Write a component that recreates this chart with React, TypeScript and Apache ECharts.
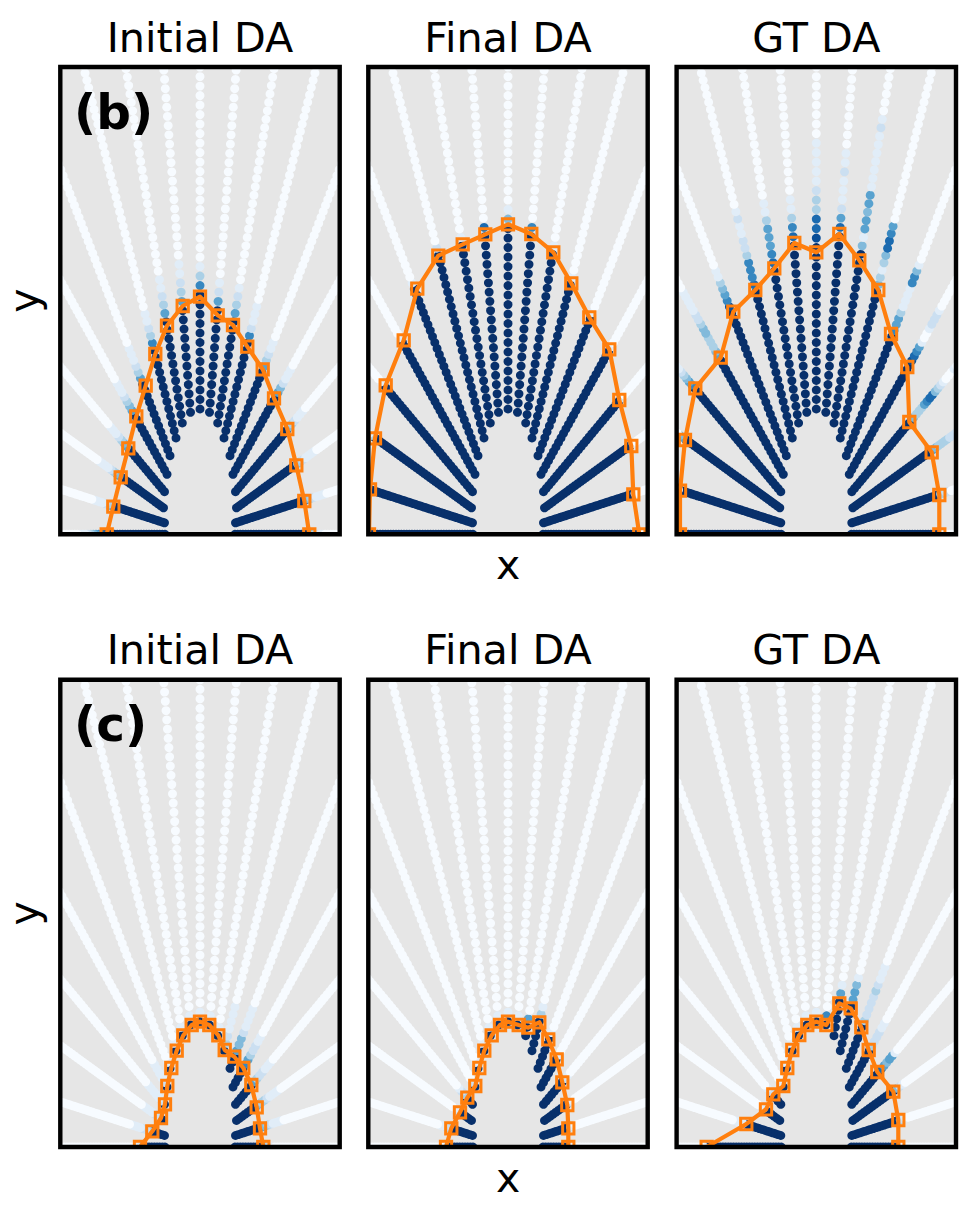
import React, { useEffect, useRef } from "react";
import * as echarts from "echarts";

// Ray start points (left bottom -> right bottom), in plot px units from the bottom centre
const innerX = [-35, -35.5, -36.5, -35.5, -33, -30, -24, -17.7, -9.5, 0, 9.5, 17.7, 24, 30, 33, 35.5, 36.5, 35.5, 35];
const innerY = [0, 11.5, 26.5, 42.6, 60, 78.6, 96.3, 111.3, 122, 125.3, 122, 111.3, 96.3, 78.6, 60, 42.6, 26.5, 11.5, 0];
const RAY_STEP = 0.0758;
const RAY_POINTS = 70;

// Orange boundaries
const bInitial = [[-93.3,0],[-86.7,27.6],[-79.3,57],[-71.7,86],[-63.7,118],[-54.3,148.6],[-44.7,180.3],[-33,208.6],[-17.3,228.3],[0,237.6],[17.7,219],[33,209.3],[47.3,187.6],[62.7,165],[74,136],[87.3,105.3],[96.3,69],[104.3,33.3],[109.3,0]];
const bFinal = [[-139,0],[-138,45],[-133,96],[-122.3,149],[-104.3,194],[-90.7,245.6],[-69.7,278.6],[-45.3,290],[-22.7,300],[0,310],[23.3,300.3],[45.3,282],[63.3,251],[81.3,217],[101.3,185],[111.3,134.3],[123.3,88.3],[125.3,40],[131.3,0]];
const bGT = [[-136.3,0],[-136.3,43.6],[-131.3,94.3],[-121,146],[-95.6,176.6],[-83,222.6],[-61,244.3],[-42,266],[-22,291.3],[0,282],[23,300.3],[43,274],[62,244.3],[74.7,200.3],[91,167.3],[93,112.3],[115.4,82],[123,39.3],[123,0]];
const cInitial = [[-60,0],[-47.7,15.7],[-39,29],[-35,42.7],[-32.7,61],[-28.7,79],[-23.3,96.3],[-16.7,111.7],[-8.3,122],[0,125.3],[9.3,122],[18.3,111.7],[24.7,97],[34.3,90.3],[43.3,79],[51.3,62],[56.7,39.7],[60,18.7],[63.3,0]];
const cFinal = [[-62,0],[-56.7,18.7],[-48,34.7],[-40.7,49.3],[-32.7,61],[-28.7,79],[-23.7,96.3],[-16.3,111.7],[-8,122],[0,125.3],[10.7,122],[20.3,119.3],[31.3,124.7],[40.3,107.7],[48.7,87.7],[54.3,64.7],[59.3,42],[60.3,18.7],[60.3,0]];
const cGT = [[-109.6,0],[-70,23],[-50.3,37.7],[-43,52.7],[-33,61],[-29,79],[-24,97],[-17,112],[-9,122],[0,125.3],[10,122],[23,143.7],[34.4,138.7],[45,119.7],[52.4,97],[61,75],[77,55.3],[82,27],[82,0]];

// Colour levels (0-9) of the dots just past each boundary; everything further is level 0
const bInitialFade = ["8765432111","5321111","54321111","5432111","5432111","532111","63211","53211","53211","631","9521","5321","62111","53211","542111","432111","4321111","4321111","43211"];
const bFinalFade = ["1","","31","1","1","1","2","1","7","41","6","1","1","1","1","2","1","1","1"];
const bGTFade = ["1","","54","6543211","5433344322111110","86543110","7666322112100","7655531100","763110","987733211111","752111211","94155455111111121","4313477650","65531111664100","98765100122210","84333567743210001","54333322210","3322","21"];
const cInitialFade = ["21","3221111","221111","211111","21111","1","1","1","1","1","1","1","321111","54421111","6532211","5322111","43321111","54321111","321"];
const cFinalFade = ["1","3211","21","321","2","1","1","1","1","1","1","5","31","1","1","21","21","21","1"];
const cGTFade = ["1","1111","21","21","1","1","1","1","1","1","6","51","5541","3222232111","32221100","7545510","4210","321","1"];

const BLUES = ["#f7fbff","#deebf7","#c6dbef","#9ecae1","#6baed6","#4292c6","#2171b5","#08519c","#08306b"];
const titles = ["Initial DA", "Final DA", "GT DA"];
const rowLabels = ["(b)", "(c)"];
const xLabel = "x";
const yLabel = "y";

const PANEL_W = 279.4, PANEL_H = 467.3;
const LEFTS = [60.3, 368.3, 676.6];
const TOPS = [67, 679.7];
const HALF = PANEL_W / 2;
const FONT = "DejaVu Sans";
const DOT_R = 4.45;
const SQUARE = 11.3;

const panels = [
  { row: 0, col: 0, b: bInitial, fade: bInitialFade },
  { row: 0, col: 1, b: bFinal, fade: bFinalFade },
  { row: 0, col: 2, b: bGT, fade: bGTFade },
  { row: 1, col: 0, b: cInitial, fade: cInitialFade },
  { row: 1, col: 1, b: cFinal, fade: cFinalFade },
  { row: 1, col: 2, b: cGT, fade: cGTFade },
];

function rayDots(b: number[][], fade: string[]) {
  const out: number[][] = [];
  innerX.forEach((ix, r) => {
    const iy = innerY[r];
    const d = Math.hypot(ix, iy);
    const last = Math.round((Math.hypot(b[r][0], b[r][1]) / d - 1) / RAY_STEP);
    for (let j = 0; j < RAY_POINTS; j++) {
      const t = 1 + j * RAY_STEP;
      const x = ix * t, y = iy * t;
      if (Math.abs(x) > HALF + 6 || y > PANEL_H + 6) break;
      const k = j - last - 1;
      const level = j <= last ? 9 : k < fade[r].length ? Number(fade[r][k]) : 0;
      out.push([x, y, level]);
    }
  });
  return out;
}

function renderDot(_: any, api: any) {
  const p = api.coord([api.value(0), api.value(1)]);
  return { type: "circle", shape: { cx: p[0], cy: p[1], r: DOT_R }, style: { fill: api.visual("color") } };
}

function renderSquare(_: any, api: any) {
  const p = api.coord([api.value(0), api.value(1)]);
  return {
    type: "rect",
    shape: { x: p[0] - SQUARE / 2, y: p[1] - SQUARE / 2, width: SQUARE, height: SQUARE },
    style: { fill: "none", stroke: "#ff7f0e", lineWidth: 3 },
  };
}

export default function App() {
  const ref = useRef<HTMLDivElement>(null);
  useEffect(() => {
    const chart = echarts.init(ref.current!, undefined, { renderer: "svg" });
    const grid: any[] = [], xAxis: any[] = [], yAxis: any[] = [], series: any[] = [], title: any[] = [], graphic: any[] = [];
    const dotSeries: number[] = [];
    panels.forEach((p, i) => {
      const left = LEFTS[p.col], top = TOPS[p.row];
      grid.push({ left, top, width: PANEL_W, height: PANEL_H, show: true, backgroundColor: "#e6e6e6", borderWidth: 0 });
      xAxis.push({
        gridIndex: i, type: "value", min: -HALF, max: HALF,
        axisLine: { show: false }, axisTick: { show: false }, axisLabel: { show: false }, splitLine: { show: false },
        name: p.col === 1 ? xLabel : "", nameLocation: "middle", nameGap: 10,
        nameTextStyle: { fontFamily: FONT, fontSize: 41, color: "#000", verticalAlign: "top" },
      });
      yAxis.push({
        gridIndex: i, type: "value", min: 0, max: PANEL_H,
        axisLine: { show: false }, axisTick: { show: false }, axisLabel: { show: false }, splitLine: { show: false },
        name: p.col === 0 ? yLabel : "", nameLocation: "middle", nameGap: 16,
        nameTextStyle: { fontFamily: FONT, fontSize: 41, color: "#000" },
      });
      dotSeries.push(series.length);
      series.push({
        type: "custom", xAxisIndex: i, yAxisIndex: i, data: rayDots(p.b, p.fade), renderItem: renderDot,
        clip: true, silent: true, encode: { x: 0, y: 1 },
      });
      series.push({
        type: "line", xAxisIndex: i, yAxisIndex: i, data: p.b, showSymbol: false, symbol: "none", clip: true, silent: true,
        lineStyle: { color: "#ff7f0e", width: 4.2, join: "round" },
      });
      series.push({
        type: "custom", xAxisIndex: i, yAxisIndex: i, data: p.b, renderItem: renderSquare,
        clip: true, silent: true, encode: { x: 0, y: 1 },
      });
      title.push({
        text: titles[p.col], left: left + PANEL_W / 2, top: top - 50, textAlign: "center", padding: 0,
        textStyle: { fontFamily: FONT, fontSize: 41.3, fontWeight: "normal", color: "#000" },
      });
      graphic.push({
        type: "rect", z: 100, silent: true,
        shape: { x: left, y: top, width: PANEL_W, height: PANEL_H },
        style: { fill: "none", stroke: "#000", lineWidth: 4.4 },
      });
      if (p.col === 0) {
        title.push({
          text: rowLabels[p.row], left: 74, top: top + 20, padding: 0, z: 50,
          textStyle: { fontFamily: FONT, fontSize: 48.5, fontWeight: "bold", color: "#000" },
        });
      }
    });
    chart.setOption({
      animation: false,
      backgroundColor: "#fff",
      grid, xAxis, yAxis, series, title, graphic,
      visualMap: {
        show: false, type: "continuous", min: 0, max: 9, dimension: 2, seriesIndex: dotSeries,
        inRange: { color: BLUES },
      },
    });
    return () => chart.dispose();
  }, []);
  return <div ref={ref} style={{ position: "absolute", left: 0, top: 0, width: 975, height: 1218 }} />;
}
